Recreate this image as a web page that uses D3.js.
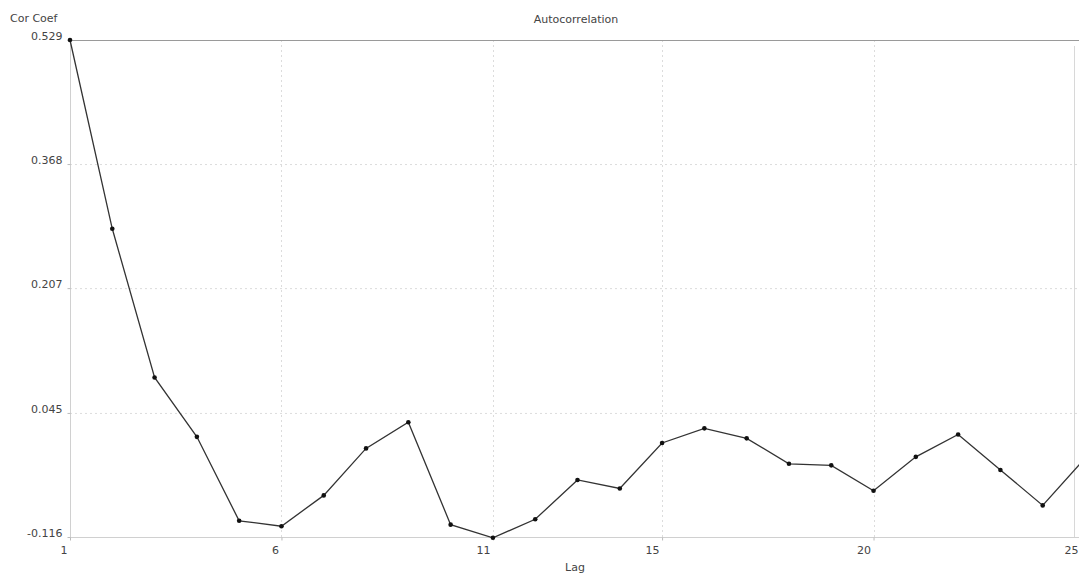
<!DOCTYPE html>
<html>
<head>
<meta charset="utf-8">
<script src="https://cdn.jsdelivr.net/npm/d3@7"></script>
<style>
  html, body { margin: 0; padding: 0; background: #fff; }
  svg { display: block; font-family: "DejaVu Sans", sans-serif; }
</style>
</head>
<body>
<svg id="chart" width="1079" height="573"></svg>
<script>
const lags = [1,2,3,4,5,6,7,8,9,10,11,12,13,14,15,16,17,18,19,20,21,22,23,24,25];
const coefs = [0.529,0.284,0.091,0.014,-0.095,-0.102,-0.062,-0.001,0.033,-0.100,-0.117,-0.093,-0.042,-0.053,0.006,0.025,0.012,-0.021,-0.023,-0.056,-0.012,0.017,-0.029,-0.075,-0.014];
const xTicks = [1,6,11,15,20,25];
const yTicks = [-0.116,0.045,0.207,0.368,0.529];
const yTickLabels = ["-0.116","0.045","0.207","0.368","0.529"];
const title = "Autocorrelation";
const xTitle = "Lag";
const yTitle = "Cor Coef";

const svg = d3.select("#chart");
const W = 1079, H = 573;
const x = d3.scaleLinear().domain([1,25]).range([70,1085]);
const y = d3.scaleLinear().domain([-0.116,0.529]).range([537,40]);
const textColor = "#444";

// horizontal gridlines (dotted)
svg.append("g").selectAll("line").data(yTicks.slice(1,4)).join("line")
  .attr("x1",70).attr("x2",W).attr("y1",d=>y(d)+0.5).attr("y2",d=>y(d)+0.5)
  .attr("stroke","#dcdcdc").attr("stroke-dasharray","2,3");
// vertical gridlines (dotted)
svg.append("g").selectAll("line").data(xTicks.slice(1,5)).join("line")
  .attr("x1",d=>Math.round(x(d))+0.5).attr("x2",d=>Math.round(x(d))+0.5)
  .attr("y1",40).attr("y2",537)
  .attr("stroke","#dcdcdc").attr("stroke-dasharray","2,3");

// frame lines
svg.append("line").attr("x1",70).attr("x2",W).attr("y1",40.5).attr("y2",40.5).attr("stroke","#9a9a9a");
svg.append("line").attr("x1",70).attr("x2",W).attr("y1",537.5).attr("y2",537.5).attr("stroke","#d0d0d0");
svg.append("line").attr("x1",70.5).attr("x2",70.5).attr("y1",40).attr("y2",540).attr("stroke","#d0d0d0");
svg.append("line").attr("x1",1074.5).attr("x2",1074.5).attr("y1",46).attr("y2",537).attr("stroke","#d8d8d8");

// y axis ticks & labels
const yAxis = d3.axisLeft(y).tickValues(yTicks).tickFormat((d,i)=>yTickLabels[i]).tickSize(3).tickPadding(5);
const gy = svg.append("g").attr("transform","translate(70.5,0)").call(yAxis);
gy.select(".domain").remove();
gy.selectAll(".tick line").attr("stroke","#bbb");
gy.selectAll(".tick text").attr("fill",textColor).attr("font-size",11).attr("dy","-0.05em")
  .attr("font-family","DejaVu Sans, sans-serif");

// x axis ticks & labels
const xAxis = d3.axisBottom(x).tickValues(xTicks).tickFormat(d3.format("d")).tickSize(3).tickPadding(6);
const gx = svg.append("g").attr("transform","translate(0,537.5)").call(xAxis);
gx.select(".domain").remove();
gx.selectAll(".tick line").attr("stroke","#bbb");
gx.selectAll(".tick text").attr("fill",textColor).attr("font-size",11)
  .attr("text-anchor","end").attr("x",d => Math.min(-3, W - 1 - x(d)))
  .attr("font-family","DejaVu Sans, sans-serif");

// line
const line = d3.line().x((d,i)=>x(lags[i])).y(d=>y(d));
svg.append("path").datum(coefs).attr("d",line)
  .attr("fill","none").attr("stroke","#333").attr("stroke-width",1.3);
svg.append("g").selectAll("circle").data(coefs).join("circle")
  .attr("cx",(d,i)=>x(lags[i])).attr("cy",d=>y(d)).attr("r",2.3).attr("fill","#111");

// titles
svg.append("text").attr("x",576).attr("y",23).attr("text-anchor","middle")
  .attr("font-size",11).attr("fill",textColor).text(title);
svg.append("text").attr("x",10).attr("y",22)
  .attr("font-size",11).attr("fill",textColor).text(yTitle);
svg.append("text").attr("x",575).attr("y",571).attr("text-anchor","middle")
  .attr("font-size",11).attr("fill",textColor).text(xTitle);
</script>
</body>
</html>
